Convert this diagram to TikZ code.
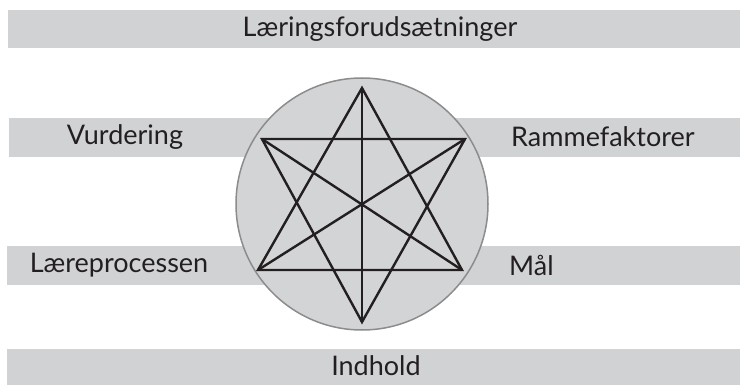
\documentclass[tikz,border=0pt]{standalone}
\usepackage{fontspec}
\setmainfont{Lato}
\definecolor{bargray}{HTML}{D1D2D4}
\definecolor{circgray}{HTML}{D3D4D6}
\definecolor{rimgray}{HTML}{8C8C8C}
\definecolor{ink}{HTML}{231F20}
\begin{document}
\begin{tikzpicture}[x=1pt,y=-1pt,
  bar/.style={fill=bargray,draw=none},
  lbl/.style={text=ink,font=\fontsize{27}{30}\selectfont,inner sep=0pt},
  starline/.style={draw=ink,line width=2.4pt,line join=miter}]
\useasboundingbox (0,0) rectangle (740,385);
\fill[bar] (8,10) rectangle (740,48);
\fill[bar] (9,118) rectangle (740,157);
\fill[bar] (7,246) rectangle (740,285);
\fill[bar] (7,349) rectangle (740,385);
\node[circle,fill=circgray,draw=rimgray,line width=1.5pt,minimum size=252pt,inner sep=0pt] (c) at (362,204) {};
\coordinate (T) at (362,88);
\coordinate (B) at (362,322);
\coordinate (UL) at (262,139);
\coordinate (UR) at (465,139);
\coordinate (LL) at (258,270);
\coordinate (LR) at (462,270);
\draw[starline] (T) -- (LL) -- (LR) -- cycle;
\draw[starline] (B) -- (UL) -- (UR) -- cycle;
\draw[starline] (T) -- (B);
\draw[starline] (UL) -- (LR);
\draw[starline] (UR) -- (LL);
\node[lbl] (top) at (380,29) {Læringsforudsætninger};
\node[lbl] (vu) at (125,137) {Vurdering};
\node[lbl,anchor=west] (ra) at (511,137) {Rammefaktorer};
\node[lbl] (lp) at (119,265) {Læreprocessen};
\node[lbl,anchor=west] (ma) at (509,265) {Mål};
\node[lbl] (in) at (376,366) {Indhold};
\end{tikzpicture}
\end{document}
